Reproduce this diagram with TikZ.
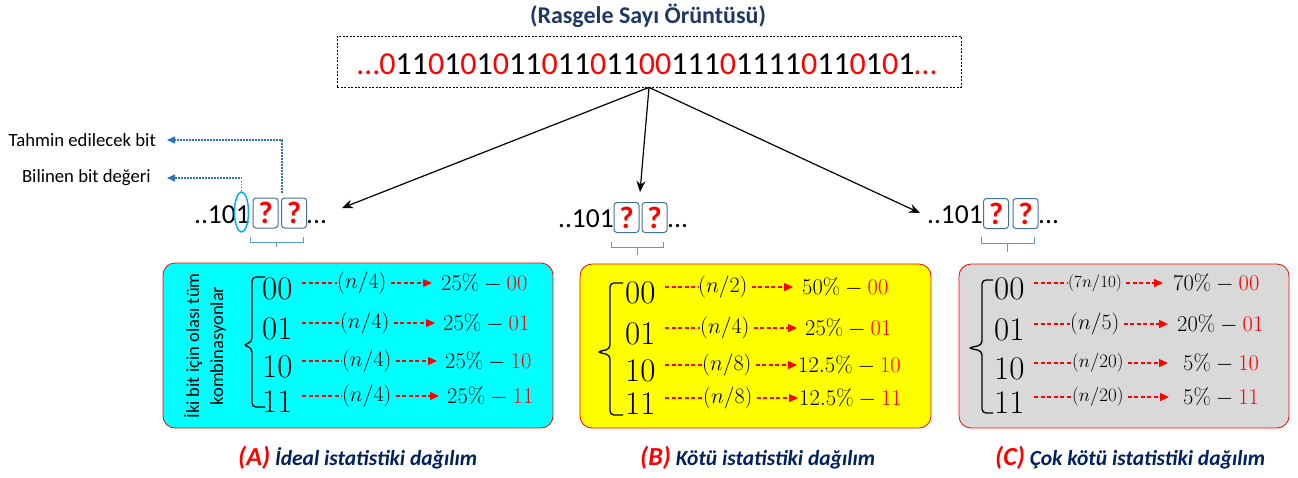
\RequirePackage{fix-cm}
\documentclass[tikz,border=0pt]{standalone}
\usepackage[no-math]{fontspec}
\setmainfont{Carlito}
\usetikzlibrary{arrows.meta,shapes.geometric}
\definecolor{navyt}{HTML}{1F3864}
\definecolor{navyc}{HTML}{002060}
\definecolor{qborder}{HTML}{41719C}
\definecolor{ecyan}{HTML}{00B0F0}
\definecolor{bdotc}{HTML}{2E75B6}
\definecolor{bbrc}{HTML}{5B9BD5}
\definecolor{boxcyan}{HTML}{00FFFF}
\definecolor{boxyel}{HTML}{FFFF00}
\definecolor{boxgray}{HTML}{D9D9D9}
\newcommand\rz{\textcolor{red}{0}}
\newcommand\capl[1]{{\color{red}\fontsize{26}{26}\selectfont #1}}
\newcommand\prow[9][8]{%
  \node[dig] (#2d) at (#4,#5+6) {$#3$};
  \coordinate (#2s) at (#4+40,#5);
  \node[frac] (#2f) at (#6,#5) {#7};
  \node[pct] (#2p) at (#8,#5) {$#9\%-\textcolor{red}{#3}$};
  \draw[rdash] (#2s) -- (#2f.west);
  \draw[rarrow] ([xshift=4pt]#2f.east) -- ([xshift=-#1pt]#2p.west);
}
\begin{document}
\begin{tikzpicture}[x=1pt,y=-1pt,
  qbox/.style={draw=qborder, fill=white, line width=1pt, rounded corners=3pt,
    minimum width=25pt, minimum height=30pt, inner sep=0pt,
    font=\bfseries\fontsize{31}{31}\selectfont, text=red},
  grp/.style={font=\fontsize{27.5}{27.5}\selectfont, inner sep=0pt},
  lbl/.style={font=\fontsize{18.7}{18.7}\selectfont, inner sep=0pt},
  blk/.style={line width=1.2pt, -{Stealth[length=11pt,width=9pt]}},
  bdot/.style={bdotc, line width=1.5pt, dash pattern=on 1.5pt off 1.5pt,
    -{Triangle[length=8pt,width=7pt]}},
  bbr/.style={bbrc, line width=1pt},
  pbox/.style={draw=red, line width=0.8pt, rounded corners=12pt},
  brc/.style={black, line width=1.3pt, rounded corners=4pt},
  dig/.style={font=\fontsize{33}{33}\selectfont, inner sep=0pt, anchor=west},
  frac/.style={font=\fontsize{22}{22}\selectfont, inner sep=0pt, anchor=west},
  pct/.style={font=\fontsize{22.5}{22.5}\selectfont, inner sep=0pt, anchor=west},
  rdash/.style={red, line width=1.4pt, dash pattern=on 4pt off 2.5pt},
  rarrow/.style={rdash, -{Triangle[length=9pt,width=8pt]}},
  captxt/.style={font=\bfseries\itshape\fontsize{21.5}{21.5}\selectfont, text=navyc, inner sep=0pt, anchor=base west}]
\useasboundingbox (0,0) rectangle (1298,477);

% title and pattern
\node[font=\bfseries\fontsize{24}{24}\selectfont, text=navyt, inner sep=0pt] (title) at (648,16) {(Rasgele Sayı Örüntüsü)};
\node[draw, dash pattern=on 2pt off 1.5pt, line width=0.8pt, minimum width=624pt, minimum height=51pt, inner sep=0pt] (pat) at (649,61.5) {};
\node[font=\fontsize{32}{32}\selectfont, inner sep=0pt] (bits) at (647,64.5)
  {\textcolor{red}{…0}11\rz1\rz1\rz11\rz11\rz11\textcolor{red}{00}111\rz1111\rz11\rz1\rz1\textcolor{red}{…}};

% left group
\node[qbox] (l1) at (265.5,213) {?};
\node[qbox] (l2) at (294,213) {?};
\node[grp, anchor=base east] (l0) at (250,223) {..101};
\node[grp, anchor=base west] (l3) at (306,223) {...};
\node[ellipse, draw=ecyan, line width=1.5pt, minimum width=14pt, minimum height=40pt, inner sep=0pt] (ell) at (241.5,212) {};
% middle group
\node[qbox] (m1) at (626.5,217.5) {?};
\node[qbox] (m2) at (654.5,217.5) {?};
\node[grp, anchor=base east] (m0) at (614,227) {..101};
\node[grp, anchor=base west] (m3) at (667,227) {...};
% right group
\node[qbox] (r1) at (996,213.5) {?};
\node[qbox] (r2) at (1025.5,213.5) {?};
\node[grp, anchor=base east] (r0) at (983,223) {..101};
\node[grp, anchor=base west] (r3) at (1038,223) {...};

% arrows from pattern
\coordinate (tl) at (342,208);
\coordinate (tm) at (640,192);
\coordinate (tr) at (920,213);
\draw[blk] (pat.south) -- (tl);
\draw[blk] (pat.south) -- (tm);
\draw[blk] (pat.south) -- (tr);

% side labels
\node[lbl, anchor=east] (tah) at (156,140) {Tahmin edilecek bit};
\node[lbl, anchor=east] (bil) at (151,178) {Bilinen bit değeri};
\coordinate (te) at (167,140);
\coordinate (be) at (167,178);
\draw[bdot] ([xshift=1pt,yshift=5pt]l2.north west) |- (te);
\draw[bdot] (ell.north) |- (be);

% small blue brackets
\draw[bbr] (250,237) -- (250,242) -- (303,242) -- (303,237) (276.5,242) -- (276.5,247);
\draw[bbr] (611,242) -- (611,247) -- (663,247) -- (663,242) (637,247) -- (637,255);
\draw[bbr] (981,237) -- (981,243) -- (1034,243) -- (1034,237) (1007.5,243) -- (1007.5,252);

% panels
\draw[pbox, fill=boxcyan] (163,263) rectangle (553,428);
\draw[pbox, fill=boxyel] (580,264) rectangle (931,428);
\draw[pbox, fill=boxgray] (959,264) rectangle (1289,428);

\node[font=\fontsize{18.5}{24}\selectfont, rotate=90, align=center, inner sep=0pt] (vt) at (205,346) {İki bit için olası tüm\\kombinasyonlar};

% braces
\draw[brc] (265,277) -- (252,277) -- (252,342) -- (243,345) -- (252,348) -- (252,407) -- (265,407);
\draw[brc] (623,283) -- (610,283) -- (610,349) -- (597,352) -- (610,355) -- (610,415) -- (623,415);
\draw[brc] (993,280) -- (982,280) -- (982,345) -- (968,348) -- (982,351) -- (982,413) -- (993,413);

% rows A
\prow[9]{aa}{00}{262}{283}{337}{$(n/4)$}{441}{25}
\prow{ab}{01}{262}{323}{340}{$(n/4)$}{443}{25}
\prow{ac}{10}{262}{361}{342}{$(n/4)$}{445}{25}
\prow{ad}{11}{262}{396}{342}{$(n/4)$}{447}{25}
% rows B
\prow[9]{ba}{00}{625}{287}{698}{$(n/2)$}{802}{50}
\prow{bb}{01}{625}{328}{700}{$(n/4)$}{805}{25}
\prow[1]{bc}{10}{625}{365}{702}{$(n/8)$}{798}{12.5}
\prow[1]{bd}{11}{625}{398}{703}{$(n/8)$}{799}{12.5}
% rows C
\prow[10]{ca}{00}{994}{283}{1068}{{\fontsize{17}{17}\selectfont$(7n/10)$}}{1173}{70}
\prow[9]{cb}{01}{994}{324}{1070}{$(n/5)$}{1177}{20}
\prow[15]{cc}{10}{994}{363}{1072}{{\fontsize{19}{19}\selectfont$(n/20)$}}{1183}{5}
\prow[14]{cd}{11}{994}{397}{1072}{{\fontsize{19}{19}\selectfont$(n/20)$}}{1183}{5}

% captions
\node[captxt] (capa) at (238,465) {\capl{(A)} İdeal istatistiki dağılım};
\node[captxt] (capb) at (640,465) {\capl{(B)} Kötü istatistiki dağılım};
\node[captxt] (capc) at (995,465) {\capl{(C)} Çok kötü istatistiki dağılım};
\end{tikzpicture}
\end{document}
